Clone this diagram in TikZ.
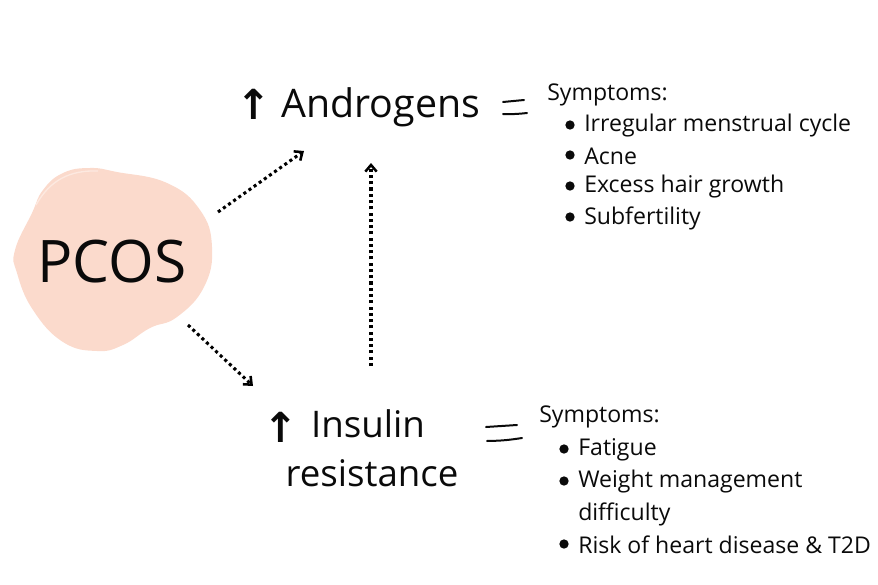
\documentclass[tikz,border=0pt]{standalone}
\usepackage{fontspec}
\setmainfont{Open Sans}
\newfontfamily\arrowfont{DejaVu Sans}
\usetikzlibrary{arrows.meta}
\definecolor{blobpink}{HTML}{FBDACC}
\definecolor{blobedge}{HTML}{FDE9E0}
\definecolor{inkblack}{HTML}{0A0A0A}
\tikzset{
  dotarrow/.style={line width=2.3pt, dash pattern=on 2.3pt off 2.4pt, -{Straight Barb[length=5pt,width=8.5pt,line width=1.9pt]}},
  title/.style={inner sep=0pt, text=inkblack, font=\fontsize{27.5}{30}\selectfont},
  uparrow/.style={inner sep=0pt, text=inkblack, font=\arrowfont\bfseries\fontsize{31}{33}\selectfont},
  symptom/.style={inner sep=0pt, anchor=west, text=inkblack, font=\fontsize{17.3}{20}\selectfont},
  dot/.style={circle, fill=inkblack, inner sep=0pt, minimum size=7pt},
  equalstroke/.style={line width=1.5pt, line cap=round, inkblack}
}
\begin{document}
\begin{tikzpicture}[x=0.75pt,y=-0.75pt]
    \useasboundingbox (0,0) rectangle (878,585);
    \coordinate (pcosA) at (218,212);
    \coordinate (androA) at (304,151);
    \coordinate (pcosB) at (188,325);
    \coordinate (insulinA) at (253,386);
    \coordinate (insulinB) at (371,366);
    \coordinate (androB) at (371,163);

    %% Blob behind PCOS
    \fill[blobpink] plot[smooth cycle, tension=0.75] coordinates {(90,168) (117,172) (167,183) (200,210) (212,247) (204,287) (177,317) (150,328) (123,345) (97,351) (63,342) (33,310) (17,273) (15,250) (32,213) (43,190) (63,173)};
    \draw[blobedge, line width=1pt] (36,205) .. controls (50,180) and (70,170) .. (98,171);
    \node[inner sep=0pt, text=inkblack, font=\fontsize{44}{50}\selectfont] (pcos) at (112,262) {PCOS};

    %% Headings
    \node[uparrow] (upA) at (254,104) {↑};
    \node[title, anchor=west, font=\fontsize{29.5}{32}\selectfont] (andro) at (281,107) {Androgens};
    \node[uparrow] (upB) at (281,427) {↑};
    \node[title] (insulin) at (368,424) {Insulin};
    \node[title] (resist) at (372,473) {resistance};

    %% Dotted arrows
    \draw[dotarrow] (pcosA) -- (androA);
    \draw[dotarrow] (pcosB) -- (insulinA);
    \draw[dotarrow] (insulinB) -- (androB);

    %% Equal signs
    \coordinate (eqA1) at (503,102);
    \coordinate (eqA2) at (524,100);
    \coordinate (eqA3) at (503,114);
    \coordinate (eqA4) at (527,113);
    \draw[equalstroke] (eqA1) -- (eqA2);
    \draw[equalstroke] (eqA3) to[bend right=4] (eqA4);
    \coordinate (eqB1) at (486,427);
    \coordinate (eqB2) at (517,425);
    \coordinate (eqB3) at (487,441);
    \coordinate (eqB4) at (522,438);
    \draw[equalstroke] (eqB1) -- (eqB2);
    \draw[equalstroke] (eqB3) to[bend right=4] (eqB4);

    %% Symptoms for androgens
    \node[symptom] (symA) at (547,95) {Symptoms:};
    \foreach \y/\txt [count=\i] in {126/Irregular menstrual cycle, 156/Acne, 187/Excess hair growth, 218/Subfertility}{
        \node[dot] (dotA\i) at (570,\y-1) {};
        \node[symptom] (itemA\i) at (584,\y) {\txt};
    }

    %% Symptoms for insulin resistance
    \node[symptom] (symB) at (539,417) {Symptoms:};
    \foreach \y/\txt [count=\i] in {450/Fatigue, 482/Weight management, 545/Risk of heart disease \& T2D}{
        \node[dot] (dotB\i) at (564,\y-1) {};
        \node[symptom] (itemB\i) at (578,\y) {\txt};
    }
    \node[symptom] (itemB4) at (578,514) {difficulty};
\end{tikzpicture}
\end{document}
